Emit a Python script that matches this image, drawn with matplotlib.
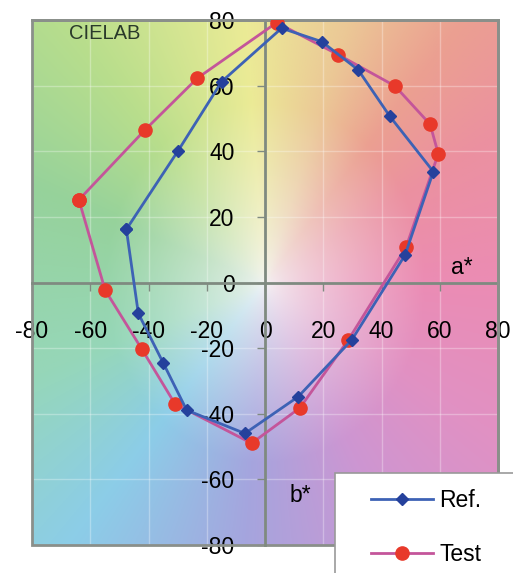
import numpy as np
import matplotlib
matplotlib.use("Agg")
import matplotlib.pyplot as plt
from matplotlib.patches import Rectangle

plt.rcParams["font.family"] = ["Liberation Sans", "DejaVu Sans"]
plt.rcParams["axes.unicode_minus"] = False

# Ref. / Test の a*, b* 値（閉じた多角形）
ref_a = [-47.6, -29.8, -14.9, 5.7, 19.5, 32.0, 42.9, 57.8, 48.1, 29.8, 11.4, -6.9, -26.9, -34.9, -43.5]
ref_b = [16.2, 40.2, 61.2, 77.5, 73.4, 64.8, 50.6, 33.8, 8.4, -17.5, -34.8, -46.0, -38.9, -24.6, -9.4]
test_a = [-63.9, -41.2, -23.2, 4.0, 25.2, 44.6, 56.7, 59.5, 48.4, 28.6, 12.0, -4.6, -30.9, -42.3, -54.9]
test_b = [25.2, 46.5, 62.3, 79.2, 69.4, 59.9, 48.2, 39.2, 10.7, -17.5, -38.2, -49.0, -37.0, -20.3, -2.3]
ticks = [-80, -60, -40, -20, 0, 20, 40, 60, 80]

# 背景の色相（角度, RGB）
hue_deg = [0, 30, 50, 70, 95, 130, 160, 200, 230, 265, 300, 330, 360]
hue_rgb = [(235, 140, 180), (235, 145, 160), (235, 160, 145), (235, 200, 150),
           (235, 235, 150), (185, 222, 140), (150, 210, 155), (150, 215, 185),
           (140, 205, 232), (165, 165, 222), (205, 150, 210), (225, 145, 195),
           (235, 140, 180)]

W, H = 513, 573
fig = plt.figure(figsize=(W / 100, H / 100), dpi=100)
ax = fig.add_axes([32 / W, 1 - 545 / H, 466 / W, 525 / H])

# 背景グラデーション
g = np.linspace(-80, 80, 300)
A, B = np.meshgrid(g, g[::-1])
ang = np.degrees(np.arctan2(B, A)) % 360
rad = np.clip(np.hypot(A, B) / 55, 0, 1) ** 0.7
hue = np.array(hue_rgb, dtype=float) / 255
img = np.zeros(A.shape + (3,))
for c in range(3):
    col = np.interp(ang, hue_deg, hue[:, c])
    img[..., c] = 0.96 * (1 - rad) + col * rad
ax.imshow(img, extent=(-80, 80, -80, 80), aspect="auto", zorder=0)

for t in ticks:
    ax.axvline(t, color="white", lw=1, alpha=0.3, zorder=1)
    ax.axhline(t, color="white", lw=1, alpha=0.3, zorder=1)

ax.plot(ref_a + ref_a[:1], ref_b + ref_b[:1], color="#3d62b5", lw=2, marker="D",
        markersize=6.5, markerfacecolor="#25419c", markeredgecolor="#25419c",
        label="Ref.", zorder=4)
ax.plot(test_a + test_a[:1], test_b + test_b[:1], color="#c4559a", lw=2, marker="o",
        markersize=9.5, markerfacecolor="#e8392a", markeredgecolor="#e8392a",
        label="Test", zorder=3)

ax.set_xlim(-80, 80)
ax.set_ylim(-80, 80)
for s in ["top", "right"]:
    ax.spines[s].set_color("#8a8f8a")
    ax.spines[s].set_linewidth(2)
ax.spines["left"].set_position(("data", 0))
ax.spines["bottom"].set_position(("data", 0))
for s in ["left", "bottom"]:
    ax.spines[s].set_color("#7f8a80")
    ax.spines[s].set_linewidth(2)
    ax.spines[s].set_zorder(2)
ax.add_patch(Rectangle((-80, -80), 160, 160, fill=False, edgecolor="#8a8f8a",
                       lw=2, zorder=2, clip_on=False))
ax.set_xticks(ticks)
ax.set_yticks(ticks)
ax.tick_params(axis="x", direction="out", length=6, width=1, color="#7f8a80",
               labelsize=16.5, pad=21)
ax.tick_params(axis="y", direction="out", length=6, width=1, color="#7f8a80",
               labelsize=16.5, pad=16)

ax.text(-55, 76, "CIELAB", fontsize=14.5, ha="center", va="center", color="#2a3a2a")
ax.text(67.5, 4.5, "a*", fontsize=16.5, ha="center", va="center")
ax.text(12, -65, "b*", fontsize=16.5, ha="center", va="center")

# 凡例（枠は図の外まで）
fig.patches.append(Rectangle((335 / W, -0.05), 0.5, 1 - 473 / H + 0.05,
                             transform=fig.transFigure, facecolor="white",
                             edgecolor="#999999", lw=1.2, zorder=5))
leg = fig.legend(loc="upper left", bbox_to_anchor=(350 / W, 1 - 468 / H),
                 frameon=False, fontsize=16.5, handlelength=2.7,
                 handletextpad=0.3, labelspacing=1.35)
leg.set_zorder(6)

fig.savefig("out.png", dpi=100)
